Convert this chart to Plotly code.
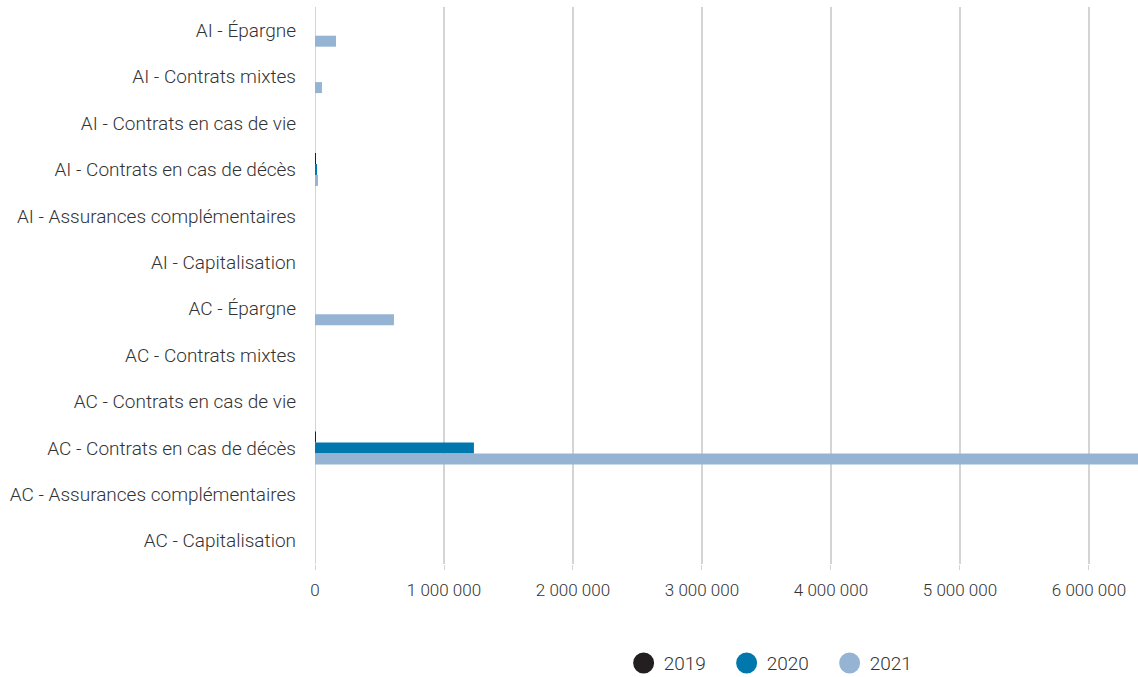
import plotly.graph_objects as go

categories = [
    "AI - Épargne",
    "AI - Contrats mixtes",
    "AI - Contrats en cas de vie",
    "AI - Contrats en cas de décès",
    "AI - Assurances complémentaires",
    "AI - Capitalisation",
    "AC - Épargne",
    "AC - Contrats mixtes",
    "AC - Contrats en cas de vie",
    "AC - Contrats en cas de décès",
    "AC - Assurances complémentaires",
    "AC - Capitalisation",
]
years = ["2019", "2020", "2021"]
values_2019 = [0, 0, 0, 5000, 0, 0, 0, 0, 0, 6000, 0, 0]
values_2020 = [0, 0, 0, 15000, 0, 0, 0, 0, 0, 1232000, 0, 0]
values_2021 = [163000, 54000, 0, 23000, 0, 0, 612000, 0, 0, 6450000, 0, 0]
tick_values = [0, 1000000, 2000000, 3000000, 4000000, 5000000, 6000000]

colors = {"2019": "#231f20", "2020": "#0077ad", "2021": "#95b4d4"}
series = {"2019": values_2019, "2020": values_2020, "2021": values_2021}

FONT = "Roboto, sans-serif"
TXT = "#333333"

fig = go.Figure()
for yr in years:
    fig.add_trace(go.Bar(
        y=categories, x=series[yr], name=yr, orientation="h",
        marker=dict(color=colors[yr], line=dict(width=0)),
        showlegend=False, legendgroup=yr,
    ))
for yr in years:
    fig.add_trace(go.Scatter(
        x=[None], y=[None], mode="markers", name=yr, legendgroup=yr,
        marker=dict(color=colors[yr], size=16, symbol="circle",
                    line=dict(color=colors[yr], width=6)),
        showlegend=True,
    ))

fig.update_layout(
    width=1138, height=677,
    margin=dict(l=315, r=0, t=7, b=113, autoexpand=False),
    paper_bgcolor="white", plot_bgcolor="white",
    barmode="group", bargap=0.29, bargroupgap=0,
    separators=", ",
    font=dict(family=FONT, size=18, color=TXT, weight=300),
    legend=dict(orientation="h", x=0.375, xanchor="left", y=-0.178, yanchor="middle",
                font=dict(family=FONT, size=19, color=TXT, weight=300),
                itemsizing="trace", traceorder="normal", itemwidth=30,
                entrywidth=58, entrywidthmode="pixels"),
)
fig.update_xaxes(
    range=[0, 6380000], tickvals=tick_values, tickformat=",d",
    showgrid=True, gridcolor="#d4d4d4", gridwidth=2,
    zeroline=False, showline=False, automargin=False,
    ticks="outside", ticklen=5, tickcolor="#d4d4d4", tickwidth=1,
    ticklabelstandoff=6,
    tickfont=dict(family=FONT, size=17, color=TXT, weight=300),
)
fig.update_yaxes(
    categoryorder="array", categoryarray=categories, autorange="reversed",
    showgrid=False, zeroline=False, showline=False, ticks="", automargin=False,
    ticklabelstandoff=18,
    tickfont=dict(family=FONT, size=19, color=TXT, weight=300),
)
fig.add_shape(type="line", xref="x", yref="paper", x0=0, x1=0, y0=0, y1=1,
              line=dict(color="#d4d4d4", width=2), layer="below")

fig.write_html(
    "out.html",
    config={"displayModeBar": False},
    post_script="document.body.style.margin='0';document.body.style.overflow='hidden';",
)
